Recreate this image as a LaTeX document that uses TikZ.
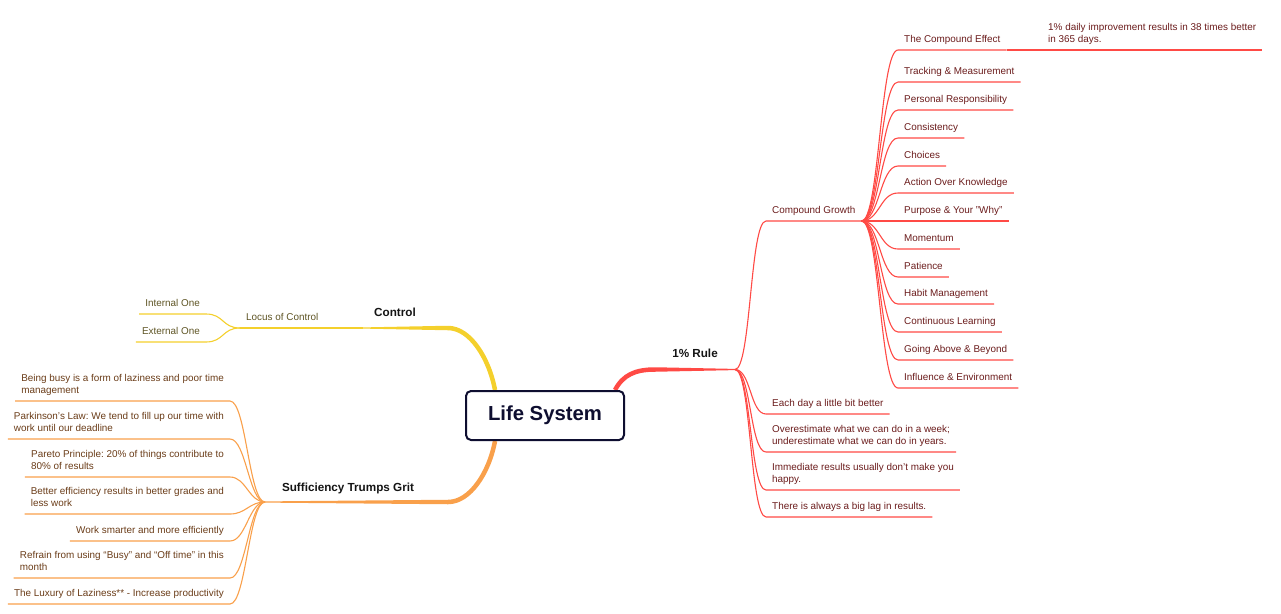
\documentclass[tikz,border=0pt]{standalone}
\usepackage{fontspec}
\setmainfont{Liberation Sans}
\usetikzlibrary{calc,backgrounds}
\definecolor{redl}{HTML}{FF4A45}
\definecolor{rtext}{HTML}{6B1C1C}
\definecolor{yell}{HTML}{F4D02C}
\definecolor{ytext}{HTML}{5E5424}
\definecolor{oran}{HTML}{F9A04B}
\definecolor{otext}{HTML}{6A3C18}
\definecolor{navy}{HTML}{0E0E30}
\frenchspacing
\begin{document}
\begin{tikzpicture}[x=1pt,y=-1pt,
  lbl/.style={font=\fontsize{9.9}{12}\selectfont\frenchspacing, inner xsep=6pt, inner ysep=3.6pt, align=left, execute at end node=\strut},
  rlbl/.style={lbl, text=rtext, anchor=south west},
  olbl/.style={lbl, text=otext, anchor=south east},
  ylbl/.style={lbl, text=ytext},
  rl/.style={draw=redl, line width=1.1pt},
  ol/.style={draw=oran, line width=1.1pt},
  yl/.style={draw=yell, line width=1.1pt},
  head/.style={font=\fontsize{11.7}{14}\selectfont\bfseries, text=black!92, anchor=base, inner sep=0pt},
  rootbox/.style={draw=navy, line width=2pt, rounded corners=5pt, fill=white, minimum width=158pt, minimum height=49pt, font=\fontsize{20.3}{24}\selectfont\bfseries, text=navy}
]
\useasboundingbox (0,0) rectangle (1281,613);

% root
\node[rootbox] (ls) at (545,415.5) {Life System};

% branch coordinates
\coordinate (rs) at ($(ls.north east)+(-10,0)$);
\coordinate (rm) at (655,369.5);
\coordinate (r1) at (735,369.5);
\coordinate (ys) at ($(ls.north west)+(30,0)$);
\coordinate (ym) at (448,328);
\coordinate (yc) at (363,328);
\coordinate (os) at ($(ls.south west)+(30,0)$);
\coordinate (om) at (448,502);
\coordinate (oc) at (265,502);

% main labels
\node[head] (h1) at (695,357) {1\% Rule};
\node[head] (h2) at (395,316) {Control};
\node[head] (h3) at (348,491) {Sufficiency Trumps Grit};

% 1% Rule children
\node[rlbl] (cg) at (766,221) {Compound Growth};
\node[rlbl] (e1) at (766,414) {Each day a little bit better};
\node[rlbl] (e2) at (766,452) {Overestimate what we can do in a week;\\underestimate what we can do in years.};
\node[rlbl] (e3) at (766,490) {Immediate results usually don’t make you\\happy.};
\node[rlbl] (e4) at (766,517) {There is always a big lag in results.};

% Compound Growth children
\node[rlbl] (c1) at (898,50) {The Compound Effect};
\node[rlbl] (c2) at (898,82) {Tracking \& Measurement};
\node[rlbl] (c3) at (898,110) {Personal Responsibility};
\node[rlbl] (c4) at (898,138) {Consistency};
\node[rlbl] (c5) at (898,166) {Choices};
\node[rlbl] (c6) at (898,193) {Action Over Knowledge};
\node[rlbl] (c7) at (898,221) {Purpose \& Your "Why"};
\node[rlbl] (c8) at (898,249) {Momentum};
\node[rlbl] (c9) at (898,277) {Patience};
\node[rlbl] (c10) at (898,304) {Habit Management};
\node[rlbl] (c11) at (898,332) {Continuous Learning};
\node[rlbl] (c12) at (898,360) {Going Above \& Beyond};
\node[rlbl] (c13) at (898,388) {Influence \& Environment};
\node[rlbl] (cd) at (1042,50) {1\% daily improvement results in 38 times better\\in 365 days.};

% Control children
\node[ylbl, anchor=south west] (loc) at (240,328) {Locus of Control};
\node[ylbl, anchor=south east] (yi) at (206,314) {Internal One};
\node[ylbl, anchor=south east] (ye) at (206,342) {External One};

% Sufficiency children
\node[olbl] (o1) at (230,401) {Being busy is a form of laziness and poor time\\management};
\node[olbl] (o2) at (230,439) {Parkinson’s Law: We tend to fill up our time with\\work until our deadline};
\node[olbl] (o3) at (230,477) {Pareto Principle: 20\% of things contribute to\\80\% of results};
\node[olbl] (o4) at (230,514) {Better efficiency results in better grades and\\less work};
\node[olbl] (o5) at (230,541) {Work smarter and more efficiently};
\node[olbl] (o6) at (230,578) {Refrain from using “Busy” and “Off time” in this\\month};
\node[olbl] (o7) at (230,604) {The Luxury of Laziness** - Increase productivity};

\begin{scope}[on background layer]
  % thick main branches
  \draw[draw=redl, line width=4.5pt] (rs) .. controls +(8,-15) and +(-20,0) .. (rm);
  \fill[redl] ($(rm)+(0,-2.25)$) -- ($(r1)+(0,-0.6)$) -- ($(r1)+(0,0.6)$) -- ($(rm)+(0,2.25)$) -- cycle;
  \draw[draw=yell, line width=4.5pt] (ys) .. controls +(-6,-32) and +(22,0) .. (ym);
  \fill[yell] ($(ym)+(0,-2.25)$) -- ($(yc)+(0,-0.6)$) -- ($(yc)+(0,0.6)$) -- ($(ym)+(0,2.25)$) -- cycle;
  \draw[draw=oran, line width=4.5pt] (os) .. controls +(-6,32) and +(22,0) .. (om);
  \fill[oran] ($(om)+(0,-2.25)$) -- ($(oc)+(0,-0.6)$) -- ($(oc)+(0,0.6)$) -- ($(om)+(0,2.25)$) -- cycle;

  % 1% Rule connectors
  \foreach \n in {cg,e1,e2,e3,e4}
    \draw[rl] (r1) .. controls +(16,0) and +(-16,0) .. (\n.south west) -- (\n.south east);
  % Compound Growth connectors
  \foreach \n in {c1,c2,c3,c4,c5,c6,c7,c8,c9,c10,c11,c12,c13}
    \draw[rl] (cg.south east) .. controls +(18,0) and +(-18,0) .. (\n.south west) -- (\n.south east);
  \draw[rl] (c1.south east) -- (cd.south west) -- (cd.south east);

  % Control connectors
  \draw[yl] (yc) -- (loc.south east) -- (loc.south west);
  \foreach \n in {yi,ye}
    \draw[yl] (loc.south west) .. controls +(-18,0) and +(18,0) .. (\n.south east) -- (\n.south west);

  % Sufficiency connectors
  \foreach \n in {o1,o2,o3,o4,o5,o6,o7}
    \draw[ol] (oc) .. controls +(-16,0) and +(16,0) .. (\n.south east) -- (\n.south west);
\end{scope}
\end{tikzpicture}
\end{document}
